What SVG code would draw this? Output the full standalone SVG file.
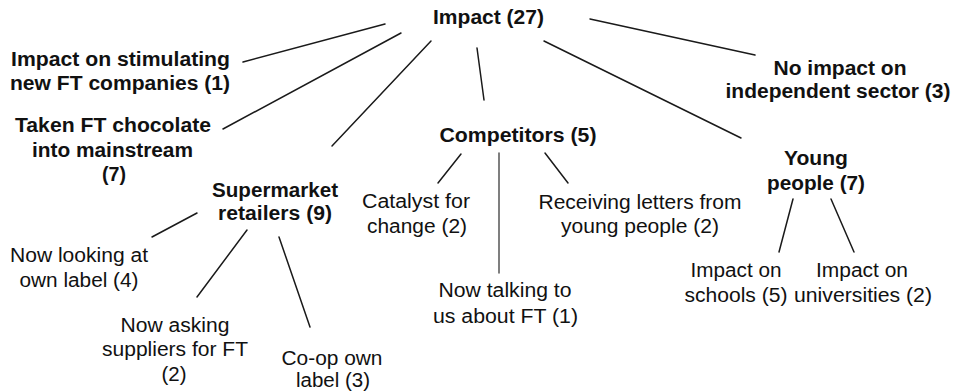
<svg xmlns="http://www.w3.org/2000/svg" width="956" height="392" viewBox="0 0 956 392">
<style>
text{font-family:"Liberation Sans",Arial,sans-serif;fill:#111;text-anchor:middle}
.b{font-weight:bold;font-size:19.5px}
.n{font-size:19.5px}
.c line{stroke:#1a1a1a;stroke-width:1.5;stroke-linecap:round}
</style>
<rect width="956" height="392" fill="#fff"/>
<g class="c" id="connectors">
<line x1="385" y1="24" x2="243" y2="62"/>
<line x1="401" y1="33" x2="223" y2="129"/>
<line x1="431" y1="41" x2="332" y2="146"/>
<line x1="477" y1="48" x2="484" y2="100"/>
<line x1="590" y1="19" x2="755" y2="55"/>
<line x1="544" y1="41" x2="741" y2="138"/>
<line x1="197" y1="213" x2="152" y2="237"/>
<line x1="247" y1="230" x2="197" y2="297"/>
<line x1="279" y1="237" x2="310" y2="327"/>
<line x1="461" y1="154" x2="438" y2="183"/>
<line x1="499" y1="153" x2="499" y2="273" style="stroke:#555"/>
<line x1="545" y1="153" x2="568" y2="183"/>
<line x1="793" y1="199" x2="779" y2="252"/>
<line x1="831" y1="199" x2="854" y2="252"/>
</g>
<g id="impact"><text class="b" x="488.5" y="24" textLength="111" lengthAdjust="spacingAndGlyphs">Impact (27)</text></g>
<g id="stimulating">
<text class="b" x="120.5" y="66" textLength="219" lengthAdjust="spacingAndGlyphs">Impact on stimulating</text>
<text class="b" x="120" y="90" textLength="220" lengthAdjust="spacingAndGlyphs">new FT companies (1)</text>
</g>
<g id="mainstream">
<text class="b" x="113" y="132" textLength="196" lengthAdjust="spacingAndGlyphs">Taken FT chocolate</text>
<text class="b" x="112.5" y="157" textLength="161" lengthAdjust="spacingAndGlyphs">into mainstream</text>
<text class="b" x="114" y="181" textLength="24" lengthAdjust="spacingAndGlyphs">(7)</text>
</g>
<g id="supermarket">
<text class="b" x="275" y="197" textLength="126" lengthAdjust="spacingAndGlyphs">Supermarket</text>
<text class="b" x="275" y="220" textLength="114" lengthAdjust="spacingAndGlyphs">retailers (9)</text>
</g>
<g id="competitors"><text class="b" x="518" y="142" textLength="157" lengthAdjust="spacingAndGlyphs">Competitors (5)</text></g>
<g id="independent">
<text class="b" x="840" y="75" textLength="133" lengthAdjust="spacingAndGlyphs">No impact on</text>
<text class="b" x="838" y="98" textLength="225" lengthAdjust="spacingAndGlyphs">independent sector (3)</text>
</g>
<g id="young">
<text class="b" x="816" y="165" textLength="64" lengthAdjust="spacingAndGlyphs">Young</text>
<text class="b" x="816" y="190" textLength="98" lengthAdjust="spacingAndGlyphs">people (7)</text>
</g>
<g id="ownlabel">
<text class="n" x="79" y="262" textLength="138" lengthAdjust="spacingAndGlyphs">Now looking at</text>
<text class="n" x="79" y="287" textLength="119" lengthAdjust="spacingAndGlyphs">own label (4)</text>
</g>
<g id="suppliers">
<text class="n" x="175" y="332" textLength="109" lengthAdjust="spacingAndGlyphs">Now asking</text>
<text class="n" x="175" y="356" textLength="146" lengthAdjust="spacingAndGlyphs">suppliers for FT</text>
<text class="n" x="174" y="381" textLength="25" lengthAdjust="spacingAndGlyphs">(2)</text>
</g>
<g id="coop">
<text class="n" x="332" y="365" textLength="101" lengthAdjust="spacingAndGlyphs">Co-op own</text>
<text class="n" x="333" y="387" textLength="74" lengthAdjust="spacingAndGlyphs">label (3)</text>
</g>
<g id="catalyst">
<text class="n" x="416" y="208" textLength="108" lengthAdjust="spacingAndGlyphs">Catalyst for</text>
<text class="n" x="417" y="233" textLength="100" lengthAdjust="spacingAndGlyphs">change (2)</text>
</g>
<g id="talking">
<text class="n" x="505" y="297" textLength="133" lengthAdjust="spacingAndGlyphs">Now talking to</text>
<text class="n" x="505.5" y="323" textLength="145" lengthAdjust="spacingAndGlyphs">us about FT (1)</text>
</g>
<g id="letters">
<text class="n" x="640" y="209" textLength="203" lengthAdjust="spacingAndGlyphs">Receiving letters from</text>
<text class="n" x="640" y="233" textLength="158" lengthAdjust="spacingAndGlyphs">young people (2)</text>
</g>
<g id="schools">
<text class="n" x="736" y="277" textLength="91" lengthAdjust="spacingAndGlyphs">Impact on</text>
<text class="n" x="736" y="302" textLength="103" lengthAdjust="spacingAndGlyphs">schools (5)</text>
</g>
<g id="universities">
<text class="n" x="862" y="277" textLength="92" lengthAdjust="spacingAndGlyphs">Impact on</text>
<text class="n" x="863" y="302" textLength="138" lengthAdjust="spacingAndGlyphs">universities (2)</text>
</g>
</svg>
